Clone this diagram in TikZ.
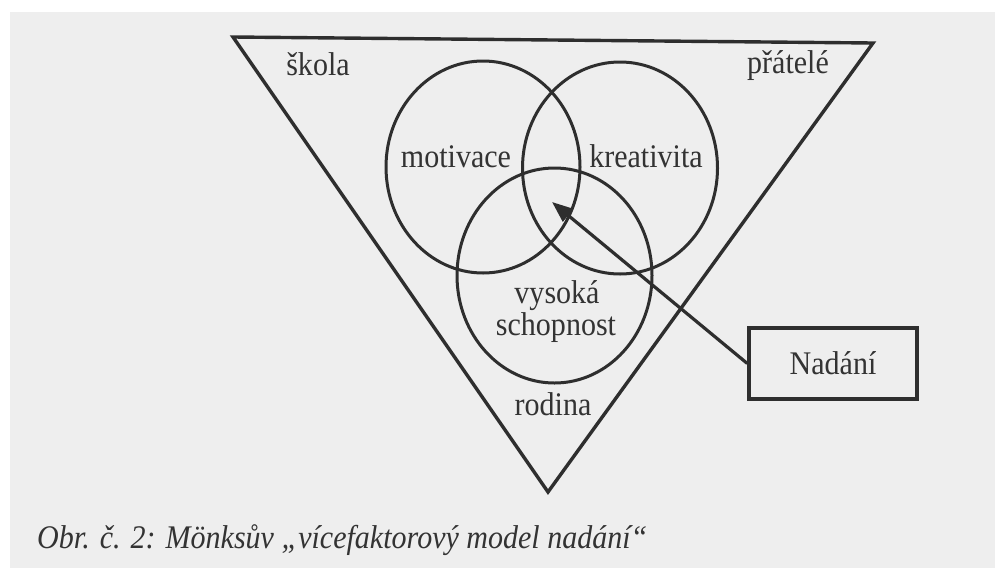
\documentclass[tikz,border=0pt]{standalone}
\usepackage{fontspec}
\usepackage{graphicx}
\setmainfont{Liberation Serif}
\usetikzlibrary{arrows.meta,shapes.geometric}
\definecolor{ink}{HTML}{2E2E2E}
\definecolor{txt}{HTML}{333333}
\definecolor{paper}{HTML}{EEEEEE}
\newcommand\sqz[1]{\scalebox{0.91}[1]{#1}}
\tikzset{
  lbl/.style={font=\fontsize{33}{36}\selectfont, text=txt, inner sep=0pt, anchor=base},
  ring/.style={draw=ink, line width=3pt, shape=ellipse, inner sep=0pt},
  frame/.style={draw=ink, line width=3.4pt, line join=miter},
}
\begin{document}
\begin{tikzpicture}[x=1pt, y=-1pt]
\useasboundingbox (0,0) rectangle (995,568);
\fill[white] (0,0) rectangle (995,568);
\fill[paper] (10,12) rectangle (995,568);

% triangle
\coordinate (tl) at (233,37);
\coordinate (tr) at (873,43);
\coordinate (ap) at (548,492);
\draw[frame] (tl) -- (tr) -- (ap) -- cycle;

% circles
\node[ring, minimum width=194pt, minimum height=212pt] (mot) at (483,167) {};
\node[ring, minimum width=195pt, minimum height=212pt] (kre) at (620,168) {};
\node[ring, minimum width=195pt, minimum height=215pt] (sch) at (554.5,275.5) {};

% labels
\node[lbl] (skola) at (318,75) {\sqz{škola}};
\node[lbl] (pratele) at (788,73) {\sqz{přátelé}};
\node[lbl] (motivace) at (456,167) {\sqz{motivace}};
\node[lbl] (kreativita) at (646,167) {\sqz{kreativita}};
\node[lbl] (vysoka) at (557,303) {\sqz{vysoká}};
\node[lbl] (schopnost) at (556,335) {\sqz{schopnost}};
\node[lbl] (rodina) at (553,415) {\sqz{rodina}};

% Nadani box
\node[frame, minimum width=168pt, minimum height=71pt, inner sep=0pt, font=\fontsize{33}{36}\selectfont, text=txt] (nadani) at (833,363.5) {\raisebox{-2pt}{\sqz{Nadání}}};
\coordinate (tip) at (552,202);
\draw[draw=ink, line width=3.2pt, -{Triangle[length=21pt, width=16pt]}] (nadani.west) -- (tip);

% caption
\node[lbl, anchor=base west, font=\fontsize{33}{36}\selectfont\itshape] (cap) at (37,548) {\sqz{Obr. č. 2: Mönksův „vícefaktorový model nadání“}};
\end{tikzpicture}
\end{document}
